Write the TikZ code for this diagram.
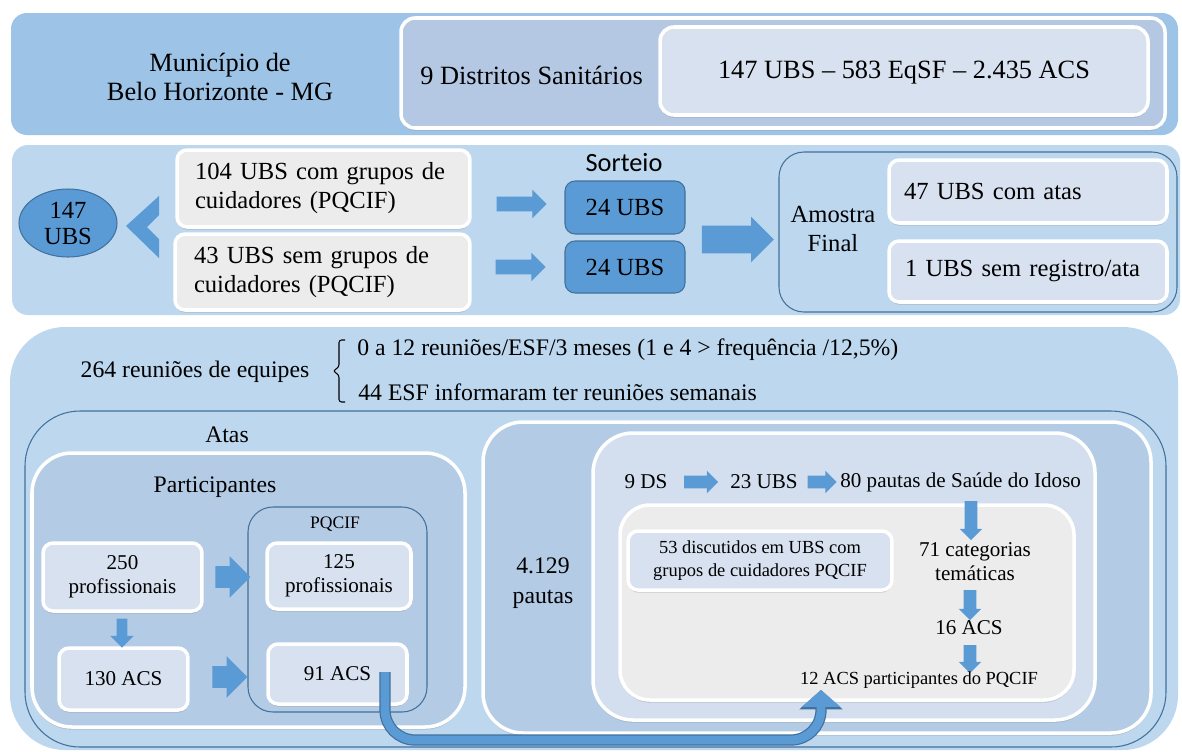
\documentclass[tikz,border=0pt]{standalone}
\usepackage{fontspec}
\setmainfont{Liberation Serif}
\newfontfamily\sortfont{Carlito}
\usetikzlibrary{shapes.geometric,shapes.arrows,shadows,arrows.meta}
\definecolor{panelA}{HTML}{9DC3E6}
\definecolor{panelB}{HTML}{BDD7EE}
\definecolor{distfill}{HTML}{B4C8E4}
\definecolor{lightfill}{HTML}{D7E1EF}
\definecolor{grayfill}{HTML}{ECECEC}
\definecolor{partfill}{HTML}{B3CBE5}
\definecolor{innerfill}{HTML}{D3DFEE}
\definecolor{midblue}{HTML}{5B9BD5}
\definecolor{darkblue}{HTML}{41719C}

\begin{document}
\begin{tikzpicture}[x=0.02cm, y=-0.02cm,
    fA/.style={font=\fontsize{15}{17}\selectfont},
    fB/.style={font=\fontsize{14}{16.5}\selectfont},
    fC/.style={font=\fontsize{13.5}{17}\selectfont},
    fD/.style={font=\fontsize{12}{13.6}\selectfont},
    fE/.style={font=\fontsize{10.5}{13.4}\selectfont},
    fF/.style={font=\fontsize{10}{12}\selectfont},
    wbox/.style={draw=white, line width=2pt, fill=#1,
        drop shadow={shadow xshift=0pt, shadow yshift=-1.5pt, opacity=0.3}},
    numbox/.style={wbox=lightfill, rounded corners=0.2cm, align=center, fD},
    graybox/.style={wbox=grayfill, rounded corners=0.2cm, align=left, fB},
    bluebox/.style={fill=midblue, draw=darkblue, line width=0.6pt, rounded corners=0.2cm, fB},
    thinbox/.style={draw=darkblue, line width=0.6pt},
    barrow/.style n args={3}{single arrow, fill=midblue, draw=none, inner xsep=0pt,
        inner ysep=#1, single arrow head extend=#2, minimum height=#3}]
    \useasboundingbox (0,0) rectangle (1182,751);
    \fill[white] (0,0) rectangle (1182,751);
    % 背景面板
    \fill[panelA, rounded corners=0.32cm] (11,13) rectangle (1178,135);
    \fill[panelB, rounded corners=0.32cm] (12,145) rectangle (1180,315);
    \fill[panelB, rounded corners=1.1cm] (10,327) rectangle (1178,750);
    % 第一行
    \draw[wbox=distfill, rounded corners=0.28cm] (401,18) rectangle (1165,128);
    \draw[wbox=lightfill, rounded corners=0.28cm] (660,27) rectangle (1148,115);
    \node[fA, align=center] (mun) at (220,77) {Município de\\Belo Horizonte - MG};
    \node[fA, anchor=west, inner sep=0pt] (dist) at (420,75) {9 Distritos Sanitários};
    \node[fA] (tot) at (904,73) {147 UBS – 583 EqSF – 2.435 ACS};
    % 第二行
    \node[ellipse, fill=midblue, draw=darkblue, line width=0.6pt, minimum width=1.96cm,
        minimum height=1.36cm, inner sep=0pt, align=center, font=\fontsize{14}{14.8}\selectfont] (ubs147) at (68,223) {147\\UBS};
    \fill[midblue] (159,196) -- (159,215) -- (147,227) -- (159,239) -- (159,258) -- (126,226) -- cycle;
    \node[graybox, minimum width=5.86cm, minimum height=1.54cm, text width=5.14cm] (com) at (323.5,188.5) {104 UBS com grupos de\\cuidadores (PQCIF)};
    \node[graybox, minimum width=5.9cm, minimum height=1.52cm, text width=5.14cm] (sem) at (322.5,272) {43 UBS sem grupos de\\cuidadores (PQCIF)};
    \node[barrow={0.14cm}{0.14cm}{1cm}] (ar1) at (518,204) {};
    \node[barrow={0.14cm}{0.14cm}{1cm}] (ar2) at (517,267) {};
    \node[font=\sortfont\fontsize{15}{17}\selectfont] (sort) at (624,163) {Sorteio};
    \node[bluebox, minimum width=2.4cm, minimum height=1.06cm] (s1) at (625,207.5) {24 UBS};
    \node[bluebox, minimum width=2.4cm, minimum height=1.04cm] (s2) at (625,267) {24 UBS};
    \node[barrow={0.27cm}{0.18cm}{1.44cm}] (ar3) at (731,239.5) {};
    \draw[thinbox, rounded corners=0.5cm] (779,152) rectangle (1177,312);
    \node[fB, align=center] (amo) at (833,229) {Amostra\\Final};
    \node[wbox=lightfill, rounded corners=0.2cm, fB, minimum width=5.56cm, minimum height=1.26cm,
        text width=4.96cm] (atas47) at (1028,191.5) {47 UBS com atas};
    \node[wbox=lightfill, rounded corners=0.2cm, fB, minimum width=5.56cm, minimum height=1.22cm,
        text width=4.92cm] (atas1) at (1028,271.5) {1 UBS sem registro/ata};
    % 第三行
    \node[fC] (reun) at (195,372) {264 reuniões de equipes};
    \draw[line width=0.6pt, rounded corners=1.5pt] (345,340) -- (339,340) -- (339,367) -- (333,371) -- (339,375) -- (339,402) -- (345,402);
    \node[fC, anchor=west, inner sep=0pt] (freq) at (357,350) {0 a 12 reuniões/ESF/3 meses (1 e 4 > frequência /12,5\%)};
    \node[fC, anchor=west, inner sep=0pt] (sem44) at (358,392) {44 ESF informaram ter reuniões semanais};
    \draw[thinbox, rounded corners=1.1cm] (25,411) rectangle (1166,747);
    \node[fC] (atas) at (227,435) {Atas};
    % 参与者
    \draw[wbox=partfill, rounded corners=0.8cm] (32,453) rectangle (465,727);
    \node[fC] (part) at (215,487) {Participantes};
    \draw[thinbox, rounded corners=0.5cm] (248,507) rectangle (427,712);
    \node[fF] (pqcif) at (335,524) {PQCIF};
    \node[numbox, minimum width=3.18cm, minimum height=1.36cm] (p250) at (122.5,577) {250\\profissionais};
    \node[numbox, minimum width=2.88cm, minimum height=1.32cm] (p125) at (339,576) {125\\profissionais};
    \node[numbox, minimum width=2.58cm, minimum height=1.24cm] (acs130) at (123.5,679) {130 ACS};
    \node[numbox, minimum width=2.78cm, minimum height=1.2cm] (acs91) at (337.5,674) {91 ACS};
    \node[barrow={0.21cm}{0.2cm}{0.7cm}] (ar4) at (227.5,577) {};
    \node[barrow={0.21cm}{0.2cm}{0.7cm}] (ar5) at (224.5,677) {};
    \node[barrow={0.1cm}{0.13cm}{0.58cm}, rotate=-90] (ar6) at (122,630.5) {};
    % 议程
    \draw[wbox=partfill, rounded corners=0.8cm] (483,422) rectangle (1151,733);
    \node[fC, align=center] (pautas) at (543,583) {4.129\\pautas};
    \draw[wbox=innerfill, rounded corners=0.8cm] (593,433) rectangle (1095,720);
    \node[fD] (ds) at (646,482) {9 DS};
    \node[barrow={0.12cm}{0.1cm}{0.68cm}] (ar7) at (698,482) {};
    \node[barrow={0.12cm}{0.1cm}{0.58cm}] (ar8) at (819,482) {};
    \node[fD] (ubs23) at (764,482) {23 UBS};
    \node[fD, anchor=west, inner sep=0pt] (idoso) at (840,482) {80 pautas de Saúde do Idoso};
    \draw[wbox=grayfill, rounded corners=0.6cm] (620,505) rectangle (1074,700);
    \node[numbox, fE, minimum width=5.28cm, minimum height=1.18cm] (disc) at (760,560.5) {53 discutidos em UBS com\\grupos de cuidadores PQCIF};
    \node[barrow={0.12cm}{0.1cm}{0.78cm}, rotate=-90] (ar9) at (971,517.5) {};
    \node[fD, align=center] (cat) at (975,562) {71 categorias\\temáticas};
    \node[barrow={0.12cm}{0.1cm}{0.6cm}, rotate=-90] (ar10) at (970,602) {};
    \node[fD] (acs16) at (969,628) {16 ACS};
    \node[barrow={0.12cm}{0.1cm}{0.56cm}, rotate=-90] (ar11) at (970,656) {};
    \node[fE] (acs12) at (919,680) {12 ACS participantes do PQCIF};
    % 连接线
    \coordinate (from91) at (385,672);
    \coordinate (to12) at (821,690);
    \coordinate (low) at (600,740);
    \draw[darkblue, line width=6.4pt, rounded corners=0.6cm, -{Triangle[width=24pt,length=11pt]}]
        (from91) -- (from91 |- low) -- (to12 |- low) -- (to12);
    \draw[midblue, line width=5pt, rounded corners=0.6cm, -{Triangle[width=21.5pt,length=9.6pt]}]
        (from91) -- (from91 |- low) -- (to12 |- low) -- (to12);
\end{tikzpicture}
\end{document}
